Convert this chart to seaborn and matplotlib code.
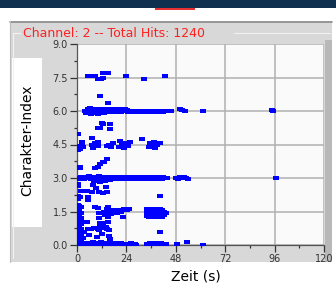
import matplotlib
matplotlib.use("Agg")
import matplotlib.pyplot as plt
import seaborn as sns
import pandas as pd
from matplotlib.patches import Rectangle
from matplotlib.lines import Line2D

# ---------------- data (time s, character index) ----------------
title_text = "Channel: 2 -- Total Hits: 1240"
x_label = "Zeit (s)"
y_label = "Charakter-Index"
x_ticks = [0, 24, 48, 72, 96, 120]
x_tick_labels = ["0", "24", "48", "72", "96", "120"]
y_ticks = [0.0, 1.5, 3.0, 4.5, 6.0, 7.5, 9.0]
y_tick_labels = ["0.0", "1.5", "3.0", "4.5", "6.0", "7.5", "9.0"]

hits_lvl0 = [(0.2,0.05),(0.7,0.0),(1.2,0.1),(1.7,0.05),(2.2,0.0),(2.8,0.05),(3.4,0.1),(4.0,0.05),
             (4.6,0.0),(5.2,0.05),(5.8,0.1),(6.4,0.05),(7.0,0.0),(7.6,0.15),(8.2,0.05),(8.8,0.0),
             (9.4,0.1),(10.0,0.05),(10.6,0.0),(11.2,0.05),(11.8,0.15),(12.4,0.05),(13.0,0.0),(13.6,0.05),
             (14.2,0.1),(14.8,0.0),(15.4,0.05),(16.0,0.1),(16.6,0.05),(17.2,0.0),(17.8,0.05),(18.4,0.1),
             (19.0,0.0),(19.6,0.05),(20.2,0.05),(20.8,0.0),(21.4,0.1),(22.0,0.05),(22.6,0.0),(23.2,0.05),
             (24.0,0.05),(24.8,0.0),(25.6,0.05),(26.4,0.1),(27.2,0.0),(28.0,0.05),(28.8,0.0),
             (34.0,0.05),(34.7,0.0),(35.4,0.1),(36.1,0.05),(36.8,0.0),(37.5,0.05),(38.2,0.1),(38.9,0.0),
             (39.6,0.05),(40.3,0.0),(41.0,0.1),(41.7,0.05),(42.4,0.0),(43.1,0.05),
             (48.7,0.05),(53.6,0.12),(61.0,0.02)]

hits_column = [(0.3,0.2),(0.3,0.35),(0.3,0.5),(0.3,0.65),(0.3,0.8),(0.3,0.95),(0.3,1.1),(0.3,1.25),
               (0.3,1.4),(0.3,1.55),(0.3,1.7),(0.3,1.8),(1.1,0.25),(1.1,0.4),(1.1,0.55),(1.1,0.7),
               (1.1,0.85),(1.1,1.0),(1.1,1.15),(1.1,1.3),(1.1,1.45),(1.1,1.6),(1.1,1.75),(1.9,0.2),
               (1.9,0.45),(1.9,0.7),(1.9,0.95),(1.9,1.2),(1.9,1.45),(1.9,1.7),(2.8,0.3),(2.8,0.6),
               (3.0,1.05),(3.3,0.6),(4.7,1.05),(5.6,0.45),(0.6,2.05),(0.6,2.2),(1.4,2.15)]

hits_lvl15 = [(10.4,1.65),(10.6,1.45),(10.8,1.2),(11.0,1.0),(11.2,0.8),(10.6,0.65),(12.7,1.0),
              (13.0,1.5),(13.5,1.35),(14.0,0.8),(14.5,1.6),(14.8,1.45),(15.0,1.25),(15.2,1.05),
              (15.5,0.65),(15.8,1.55),(16.3,1.4),(16.8,1.5),(17.4,1.55),(15.0,1.7),(12.2,0.5),
              (5.5,0.7),(7.0,0.7),(8.5,0.75),(10.0,0.7),(11.5,0.8),(13.0,0.75),(14.5,0.7),
              (9.8,0.35),(15.6,0.4),(16.0,0.25),
              (19.5,1.45),(20.5,1.55),(21.5,1.5),(23.0,1.6),(24.5,1.55),(25.5,1.6),(22.2,1.25),
              (34.2,1.3),(34.2,1.45),(34.2,1.6),(35.2,1.25),(35.2,1.4),(35.2,1.55),(36.2,1.3),
              (36.2,1.45),(36.2,1.6),(37.2,1.25),(37.2,1.4),(37.2,1.55),(38.2,1.3),(38.2,1.45),
              (38.2,1.6),(39.2,1.25),(39.2,1.4),(39.2,1.55),(40.2,1.3),(40.2,1.45),(40.2,1.6),
              (41.2,1.25),(41.2,1.4),(41.2,1.55),(42.2,1.35),(42.2,1.5),(43.0,1.45),
              (40.5,0.6),(40.5,2.2)]

hits_lvl3 = [(0.5,3.0),(1.2,2.95),(2.0,3.05),(2.8,3.0),(3.6,2.95),(4.4,3.05),(5.2,3.0),(6.0,3.08),
             (6.8,2.95),(7.6,3.0),(8.4,3.05),(9.2,2.95),(10.0,3.0),(10.8,3.08),(11.6,3.0),(12.4,2.95),
             (13.2,3.05),(14.0,3.0),(14.8,2.95),(15.6,3.05),(16.4,3.0),(17.2,2.95),(18.0,3.05),
             (18.8,3.0),(19.6,2.95),(20.4,3.05),(21.2,3.0),(22.0,2.95),(22.8,3.05),(23.6,3.0),
             (24.4,2.95),(25.2,3.05),(26.0,3.0),(26.8,2.95),(27.6,3.05),(28.4,3.0),(29.2,2.95),
             (30.0,3.05),(30.8,3.0),(31.6,2.95),(32.4,3.05),(33.2,3.0),(34.0,2.95),(34.8,3.05),
             (35.6,3.0),(36.4,2.95),(37.2,3.05),(38.0,3.0),(38.8,2.95),(39.6,3.05),(40.4,3.0),
             (41.2,2.95),(42.0,3.05),(42.8,3.0),(43.5,3.02),
             (48.2,3.0),(49.0,2.95),(50.0,3.05),(51.0,3.0),(52.0,3.05),(53.0,3.0),(53.8,2.95),
             (96.8,2.98),
             (8.5,2.85),(11.0,2.8),(13.5,2.85),(16.0,2.9)]

hits_lvl45 = [(0.6,4.45),(1.5,4.3),(2.6,4.55),(3.1,4.4),(7.2,4.5),(8.0,4.35),(8.8,4.55),(10.0,4.45),
              (10.4,4.6),(14.5,4.45),(15.5,4.5),(16.5,4.4),(17.5,4.55),(20.2,4.4),(21.0,4.65),
              (21.8,4.5),(22.8,4.35),(24.0,4.55),(24.9,4.45),(25.8,4.6),(31.5,4.74),(34.8,4.4),
              (35.6,4.55),(36.4,4.45),(37.2,4.6),(38.0,4.35),(39.0,4.5),(40.5,4.55),
              (0.65,4.95),(7.2,4.8),(2.4,4.6)]

hits_lvl6 = [(4.0,6.0),(4.6,5.9),(5.2,6.1),(5.8,5.95),(6.4,6.15),(7.0,5.85),(7.6,6.05),(8.2,5.9),
             (8.8,6.1),(9.4,6.0),(10.0,5.85),(10.6,6.05),(11.2,5.9),(11.8,6.1),(12.4,6.0),(13.0,5.92),
             (13.6,6.08),(14.2,6.0),(14.8,5.95),(15.4,6.1),(16.0,6.0),(16.6,5.95),(17.2,6.05),
             (17.8,6.0),(18.4,6.08),(19.0,5.95),(19.6,6.05),(20.2,6.0),(20.8,6.08),(21.4,5.97),
             (22.0,6.05),(22.6,6.0),(23.2,6.1),(23.8,6.0),(24.4,6.05),(25.0,5.95),(25.6,6.02),
             (26.2,6.0),(26.8,5.95),(27.4,6.02),(28.0,6.0),(28.6,5.97),(29.2,6.02),(29.8,6.0),
             (30.4,5.97),(31.0,6.0),(31.6,5.97),(32.2,6.02),(32.8,5.95),(33.4,6.0),(34.0,5.97),
             (34.6,6.02),(35.2,5.95),(35.8,6.0),(36.4,5.97),(37.0,6.02),(37.6,6.0),(38.2,5.95),
             (38.8,6.02),(39.4,6.0),(40.0,5.97),(40.6,6.02),(41.2,6.0),(41.8,5.97),(42.4,6.02),
             (43.0,6.0),(43.6,6.02),(44.2,6.0),(45.0,5.98),(45.8,6.02),
             (50.2,6.08),(51.2,6.05),(52.4,6.02),(61.0,5.98),(94.5,6.05),(95.2,5.98)]

hits_lvl75 = [(5.5,7.58),(6.6,7.58),(7.7,7.56),(8.8,7.58),(10.4,7.45),(11.5,7.42),(12.8,7.48),
              (12.8,7.7),(14.0,7.72),(15.3,7.68),(23.9,7.58),(32.4,7.44),(42.9,7.55)]

hits_misc = [(11.2,6.65),(15.3,6.38),(12.2,5.45),(10.4,5.25),(12.8,5.4),(15.8,5.2),(11.0,5.25),
             (15.8,5.4),(1.3,3.47),(8.8,3.44),(11.2,3.63),(12.5,3.72),(14.5,3.84),(13.0,3.7),
             (10.0,3.5),(1.5,3.5),(0.7,2.75),(7.7,2.7),(14.0,2.6),(9.0,2.55),(3.5,2.4),(2.0,2.4),
             (5.0,2.4),(7.3,2.38),(10.5,2.38),(12.5,2.35),(14.6,2.38),(5.5,2.15),(5.5,2.0),
             (8.9,1.72),(0.5,2.65),(1.5,4.3),(0.6,4.25)]

# ---------------- build table ----------------
groups = [hits_lvl0, hits_column, hits_lvl15, hits_lvl3, hits_lvl45, hits_lvl6, hits_lvl75, hits_misc]
rows = [p for g in groups for p in g]
df = pd.DataFrame(rows, columns=["t", "idx"])

# ---------------- figure ----------------
sns.set_theme(style="white")
plt.rcParams['font.family'] = ['DejaVu Sans']

W, H = 336, 284
fig = plt.figure(figsize=(W / 100, H / 100), dpi=100)
fig.patch.set_facecolor("white")

def rect(x0, y0, x1, y1, **kw):
    fig.patches.append(Rectangle((x0 / W, 1 - y1 / H), (x1 - x0) / W, (y1 - y0) / H,
                                 transform=fig.transFigure, figure=fig, zorder=-10, **kw))

def line(x0, y0, x1, y1, **kw):
    fig.lines.append(Line2D([x0 / W, x1 / W], [1 - y0 / H, 1 - y1 / H],
                            transform=fig.transFigure, figure=fig, zorder=-5, **kw))

# top navy band and clipped red bit
rect(0, 0, W, 7.5, facecolor="#10304f", edgecolor="none")
rect(155, 7.5, 195, 9.5, facecolor="#e83030", edgecolor="none")
# grey panel
rect(10, 21, 332, 262, facecolor="#d8d8d8", edgecolor="none")
line(10, 21.5, 332, 21.5, color="#8a8a8a", lw=1.2)
line(10, 21, 10, 262, color="#bdbdbd", lw=0.8)
# groupbox frame
line(13, 33, 20, 33, color="#f2f2f2", lw=0.8)
line(234, 33, 330, 33, color="#f2f2f2", lw=0.8)
line(13, 33, 13, 258, color="#f2f2f2", lw=0.8)
rect(325, 40, 332, 262, facecolor="#b8b8b8", edgecolor="none")
# y label white box
rect(12, 58, 42, 227, facecolor="white", edgecolor="none")

fig.text(23 / W, 1 - 33.5 / H, title_text, color="#ff2020", fontsize=9,
         ha="left", va="center")
fig.text(27 / W, 1 - 140 / H, y_label, rotation=90, fontsize=10, color="black",
         ha="center", va="center")
fig.text(196 / W, 1 - 277 / H, x_label, fontsize=10, color="black",
         ha="center", va="center")

ax = fig.add_axes([77 / W, 1 - 245 / H, (324 - 77) / W, (245 - 44) / H])
ax.set_facecolor("#fafafa")
hbar = [(-1.0, -0.6), (1.0, -0.6), (1.0, 0.6), (-1.0, 0.6), (-1.0, -0.6)]
sns.scatterplot(data=df, x="t", y="idx", ax=ax, marker=hbar, s=15,
                color="#0000ff", linewidth=0, legend=False, zorder=3)

ax.set_xlim(0, 120)
ax.set_ylim(0, 9)
ax.set_xticks(x_ticks)
ax.set_xticklabels(x_tick_labels)
ax.set_yticks(y_ticks)
ax.set_yticklabels(y_tick_labels)
ax.set_xticks([12, 36, 60, 84, 108], minor=True)
ax.set_yticks([0.75, 2.25, 3.75, 5.25, 6.75, 8.25], minor=True)
ax.grid(True, which="major", color="#b0b0b0", lw=1.1, zorder=0)
ax.set_axisbelow(True)
ax.tick_params(axis="both", which="major", direction="out", length=5, width=0.9,
               color="#333333", labelsize=7, labelcolor="#333333", pad=1.5)
ax.tick_params(axis="both", which="minor", direction="out", length=2.5, width=0.9,
               color="#333333")
ax.tick_params(axis="y", which="both", left=True)
ax.tick_params(axis="x", which="both", bottom=True)
ax.set_xlabel("")
ax.set_ylabel("")
for s in ["top", "right"]:
    ax.spines[s].set_visible(False)
for s in ["left", "bottom"]:
    ax.spines[s].set_color("#555555")
    ax.spines[s].set_linewidth(0.9)

fig.savefig("out.png", dpi=100, facecolor="white")
